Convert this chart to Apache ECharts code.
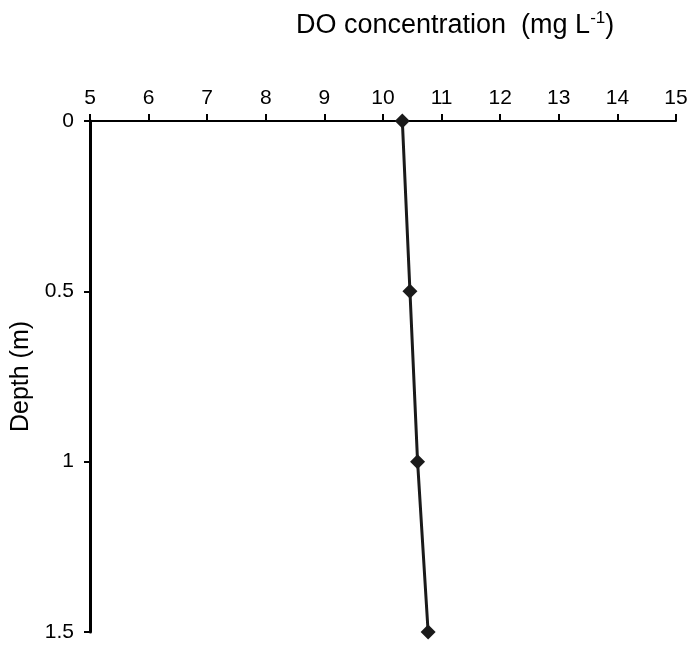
<!DOCTYPE html>
<html>
<head>
<meta charset="utf-8">
<script src="https://cdn.jsdelivr.net/npm/echarts@6/dist/echarts.min.js"></script>
<style>html,body{margin:0;padding:0;background:#fff}#c{width:691px;height:649px}</style>
</head>
<body>
<div id="c"></div>
<script>
var depths = [0, 0.5, 1, 1.5];
var doValues = [10.33, 10.46, 10.59, 10.77];
var xTicks = [5, 6, 7, 8, 9, 10, 11, 12, 13, 14, 15];
var yTicks = [0, 0.5, 1, 1.5];

var chart = echarts.init(document.getElementById('c'), null, {renderer: 'canvas'});
var data = depths.map(function (d, i) { return [doValues[i], d]; });
var FF = 'Liberation Sans, Arial, sans-serif';
chart.setOption({
  animation: false,
  textStyle: {fontFamily: FF},
  title: {
    text: 'DO concentration  (mg L{sup|-1})',
    left: 291, top: 5,
    textStyle: {
      fontFamily: FF,
      fontSize: 27, fontWeight: 'normal', color: '#000',
      rich: {sup: {fontSize: 17, verticalAlign: 'top', padding: [0, 0, 14, 0], fontFamily: FF, color: '#000'}}
    }
  },
  grid: {left: 90, right: 15, top: 121, bottom: 17},
  xAxis: {
    type: 'value', position: 'top', min: xTicks[0], max: xTicks[xTicks.length - 1], interval: 1,
    axisLine: {lineStyle: {color: '#000', width: 2}},
    axisTick: {show: true, length: 7, inside: false, lineStyle: {color: '#000', width: 2}},
    axisLabel: {color: '#000', fontSize: 21, margin: 12},
    splitLine: {show: false}
  },
  yAxis: {
    type: 'value', inverse: true, min: yTicks[0], max: yTicks[yTicks.length - 1], interval: 0.5,
    name: 'Depth (m)', nameLocation: 'middle', nameGap: 54, nameRotate: 90,
    nameTextStyle: {color: '#000', fontSize: 25},
    axisLine: {onZero: false, lineStyle: {color: '#000', width: 3}},
    axisTick: {show: true, length: 6, lineStyle: {color: '#000', width: 2}},
    axisLabel: {color: '#000', fontSize: 21, margin: 16},
    splitLine: {show: false}
  },
  series: [{
    type: 'line', data: data,
    symbol: 'diamond', symbolSize: 15,
    lineStyle: {color: '#1a1a1a', width: 3},
    itemStyle: {color: '#1a1a1a'}
  }]
});
</script>
</body>
</html>
